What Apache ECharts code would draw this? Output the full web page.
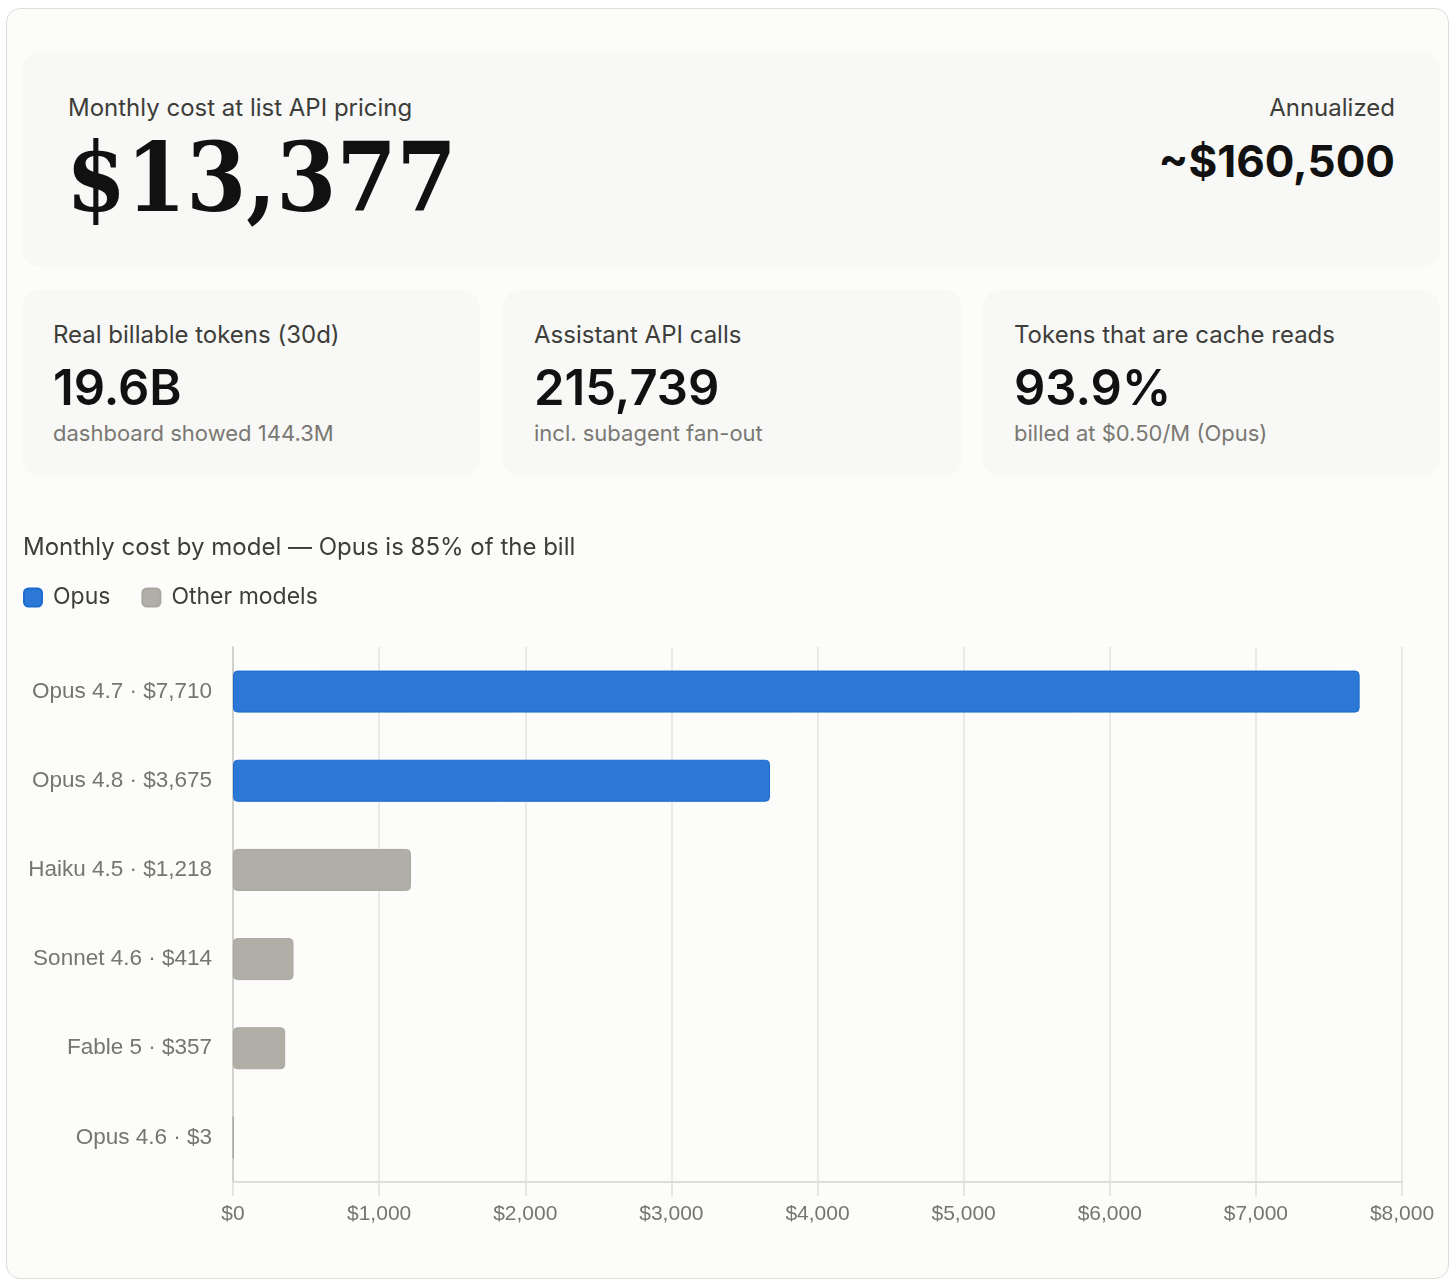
<!DOCTYPE html>
<html>
<head>
<meta charset="utf-8">
<script src="https://cdn.jsdelivr.net/npm/echarts@6/dist/echarts.min.js"></script>
<style>
  body { margin: 0; background: #fff; font-family: Inter, "Noto Sans", sans-serif; }
  .abs { position: absolute; }
  .outer { left: 6px; top: 8px; width: 1441px; height: 1269px; border: 1.5px solid #dcdcd9; border-radius: 14px; background: #fcfcfb; }
  .card { background: #f8f8f6; border-radius: 18px; }
  .lbl { font-size: 24px; line-height: 30px; color: #3d3d3a; white-space: nowrap; }
  .val { font-size: 44px; line-height: 44px; font-weight: 700; color: #111; white-space: nowrap; }
  .stat { font-size: 49px; line-height: 49px; font-weight: 600; }
  .sub { font-size: 22px; line-height: 28px; color: #7a7873; white-space: nowrap; }
  .big { font-family: "DejaVu Serif Condensed", "DejaVu Serif", serif; font-weight: 700; font-size: 96px; line-height: 96px; color: #111; white-space: nowrap; }
</style>
</head>
<body>
<div class="abs outer"></div>

<!-- hero -->
<div class="abs card" style="left:22px;top:52px;width:1418px;height:215px;"></div>
<div class="abs lbl" style="left:68px;top:93px;">Monthly cost at list API pricing</div>
<div class="abs big" style="left:66px;top:130px;">$13,377</div>
<div class="abs lbl" style="right:61px;top:93px;">Annualized</div>
<div class="abs val" style="right:61px;top:139px;">~$160,500</div>

<div id="stats"></div>
<div id="chart" class="abs" style="left:6px;top:500px;width:1444px;height:775px;"></div>

<script>
// stat cards
var statLabels = ['Real billable tokens (30d)', 'Assistant API calls', 'Tokens that are cache reads']
var statValues = ['19.6B', '215,739', '93.9%']
var statNotes = ['dashboard showed 144.3M', 'incl. subagent fan-out', 'billed at $0.50/M (Opus)']

// chart data
var models = ['Opus 4.7', 'Opus 4.8', 'Haiku 4.5', 'Sonnet 4.6', 'Fable 5', 'Opus 4.6']
var costs = [7710, 3675, 1218, 414, 357, 3]
var isOpus = [true, true, false, false, false, false]
var xTicks = [0, 1000, 2000, 3000, 4000, 5000, 6000, 7000, 8000]

var cardLeft = [22, 503, 983]
var cardWidth = [458, 459, 457]
var html = ''
for (var i = 0; i < statLabels.length; i++) {
  var l = cardLeft[i]
  html += '<div class="abs card" style="left:' + l + 'px;top:290px;width:' + cardWidth[i] + 'px;height:187px;"></div>'
  html += '<div class="abs lbl" style="left:' + (l + 31) + 'px;top:320px;">' + statLabels[i] + '</div>'
  html += '<div class="abs val stat" style="left:' + (l + 31) + 'px;top:363px;">' + statValues[i] + '</div>'
  html += '<div class="abs sub" style="left:' + (l + 31) + 'px;top:419px;">' + statNotes[i] + '</div>'
}
document.getElementById('stats').innerHTML = html

function money(v) {
  return '$' + v.toLocaleString('en-US')
}

var labels = models.map(function (m, i) { return m + ' · ' + money(costs[i]) })
var opusData = costs.map(function (v, i) { return isOpus[i] ? v : '-' })
var otherData = costs.map(function (v, i) { return isOpus[i] ? '-' : v })

var chart = echarts.init(document.getElementById('chart'))
chart.setOption({
  animation: false,
  title: {
    text: 'Monthly cost by model — Opus is 85% of the bill',
    left: 17,
    top: 36,
    padding: 0,
    textStyle: { fontFamily: 'Inter', fontSize: 24, fontWeight: 'normal', color: '#3d3d3a' },
  },
  legend: {
    left: 17,
    top: 86,
    padding: 0,
    icon: 'roundRect',
    itemWidth: 18,
    itemHeight: 18,
    itemGap: 31,
    textStyle: { fontFamily: 'Inter', fontSize: 23, color: '#3d3d3a', padding: [0, 0, 0, 6] },
    data: ['Opus', 'Other models'],
  },
  grid: { left: 227, right: 48, top: 147, bottom: 93 },
  xAxis: {
    type: 'value',
    min: xTicks[0],
    max: xTicks[xTicks.length - 1],
    interval: 1000,
    axisLine: { show: true, lineStyle: { color: '#dddddb', width: 2 } },
    axisTick: { show: true, length: 14, lineStyle: { color: '#dddddb', width: 1.5 } },
    splitLine: { show: true, lineStyle: { color: '#e3e3e1', width: 1.5 } },
    axisLabel: {
      margin: 22,
      fontFamily: 'Liberation Sans',
      fontSize: 21,
      color: '#77756f',
      formatter: function (v) { return money(v) },
    },
  },
  yAxis: {
    type: 'category',
    inverse: true,
    data: labels,
    axisLine: { show: true, lineStyle: { color: '#c9c9c6', width: 1.5 } },
    axisTick: { show: false },
    axisLabel: { margin: 21, fontFamily: 'Liberation Sans', fontSize: 22.5, color: '#77756f' },
  },
  series: [
    {
      name: 'Opus',
      type: 'bar',
      barWidth: 42,
      barGap: '-100%',
      data: opusData,
      itemStyle: { color: '#2b78d6', borderColor: '#1d6bcf', borderWidth: 1, borderRadius: 4 },
    },
    {
      name: 'Other models',
      type: 'bar',
      barWidth: 42,
      barGap: '-100%',
      data: otherData,
      itemStyle: { color: '#b1aea7', borderColor: '#a9a69f', borderWidth: 1, borderRadius: 4 },
    },
  ],
})
</script>
</body>
</html>
